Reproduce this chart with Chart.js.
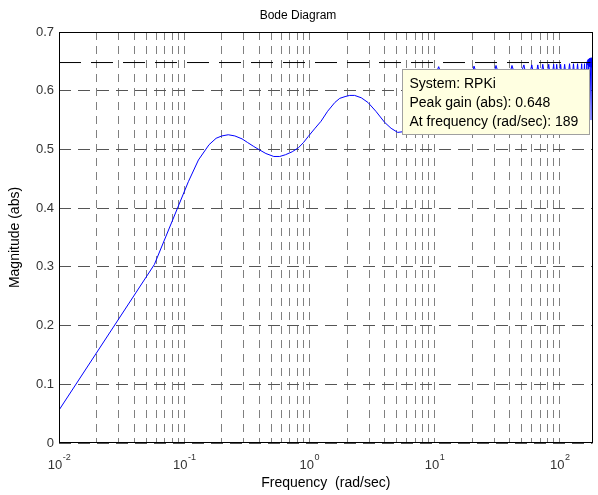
<!DOCTYPE html>
<html>
<head>
<meta charset="utf-8">
<script src="https://cdn.jsdelivr.net/npm/chart.js@4.4.1/dist/chart.umd.min.js"></script>
<style>
  html, body { margin: 0; padding: 0; background: #fff; }
  #wrap { width: 598px; height: 495px; position: relative; }
</style>
</head>
<body>
<div id="wrap"><canvas id="bode"></canvas></div>
<script>
const FONT = "'Liberation Sans', Arial, Helvetica, sans-serif";

// Magnitude response (rad/sec -> abs)
const freq = [0.01, 0.0578, 0.108, 0.13, 0.158, 0.18, 0.2, 0.225, 0.254, 0.29,
  0.32, 0.36, 0.394, 0.45, 0.52, 0.58, 0.645, 0.73, 0.82, 0.9,
  0.98, 1.1, 1.24, 1.4, 1.6, 1.75, 1.93, 2.1, 2.3, 2.6,
  2.94, 3.4, 4.0, 4.5, 5.08, 6.5,
  8.0, 9.5, 10.8, 12.5, 15.5, 18.5, 20.7, 23.5, 27.5, 31.0,
  34.5, 38.5, 41.6, 46, 51.8, 55.5, 59.9, 63.5, 66.9, 70,
  73.3, 77.5, 81.8, 85.5, 89.6, 92, 94.7, 98, 101.8, 105.5,
  109.6, 114.5, 120, 124.5, 129, 134, 139, 144.5, 150, 154,
  158, 162, 165, 168, 171, 174, 177, 180, 181.5, 183];
const mag = [0.056, 0.304, 0.445, 0.482, 0.508, 0.519, 0.523, 0.525, 0.523, 0.518,
  0.512, 0.505, 0.5, 0.493, 0.488, 0.488, 0.491, 0.496, 0.503, 0.512,
  0.522, 0.535, 0.548, 0.565, 0.58, 0.587, 0.59, 0.592, 0.592, 0.588,
  0.58, 0.565, 0.546, 0.536, 0.529, 0.532,
  0.555, 0.61, 0.641, 0.6, 0.575, 0.6, 0.642, 0.605, 0.6, 0.643,
  0.61, 0.615, 0.643, 0.612, 0.644, 0.612, 0.644, 0.615, 0.644, 0.615,
  0.645, 0.612, 0.645, 0.612, 0.645, 0.615, 0.645, 0.612, 0.645, 0.612,
  0.645, 0.61, 0.646, 0.61, 0.646, 0.608, 0.646, 0.605, 0.646, 0.6,
  0.646, 0.57, 0.647, 0.56, 0.647, 0.55, 0.648, 0.648, 0.55, 0.6];

// Peak marker (data tip)
const peakFreq = 180;
const peakGain = 0.648;
const tipLines = ['System: RPKi', 'Peak gain (abs): 0.648', 'At frequency (rad/sec): 189'];

// Axes
const xMin = 0.01, xMax = 183;
const xGrid = [0.01, 0.02, 0.03, 0.04, 0.05, 0.06, 0.07, 0.08, 0.09,
  0.1, 0.2, 0.3, 0.4, 0.5, 0.6, 0.7, 0.8, 0.9,
  1, 2, 3, 4, 5, 6, 7, 8, 9,
  10, 20, 30, 40, 50, 60, 70, 80, 90, 100];
const xDecades = [0.01, 0.1, 1, 10, 100];
const xExps = ['-2', '-1', '0', '1', '2'];
const yTicks = [0, 0.1, 0.2, 0.3, 0.4, 0.5, 0.6, 0.7];
const yLabels = ['0', '0.1', '0.2', '0.3', '0.4', '0.5', '0.6', '0.7'];

const bodeDecor = {
    id: 'bodeDecor',
    afterDatasetsDraw(chart) {
        const { ctx, chartArea: a, scales: { x, y } } = chart;
        ctx.save();
        // box round the axes
        ctx.strokeStyle = '#000';
        ctx.lineWidth = 1;
        ctx.strokeRect(Math.round(a.left) + 0.5, Math.round(a.top) + 0.5,
            Math.round(a.right - a.left) - 1, Math.round(a.bottom - a.top) - 1);

        // data tip box
        const px = x.getPixelForValue(peakFreq), py = y.getPixelForValue(peakGain);
        const bx = Math.round(px - 190) + 0.5, by = Math.round(py + 6) + 0.5;
        ctx.fillStyle = '#ffffe1';
        ctx.strokeStyle = '#a0a0a0';
        ctx.fillRect(bx, by, 187, 65);
        ctx.strokeRect(bx, by, 187, 65);
        ctx.fillStyle = '#000';
        ctx.font = '14px ' + FONT;
        ctx.textAlign = 'left';
        ctx.textBaseline = 'alphabetic';
        tipLines.forEach((t, i) => ctx.fillText(t, bx + 7, by + 18 + i * 19));
        ctx.restore();
    },
    afterDraw(chart) {
        const { ctx, chartArea: a, scales: { x } } = chart;
        ctx.save();
        ctx.fillStyle = '#333';
        ctx.textAlign = 'left';
        ctx.textBaseline = 'alphabetic';
        xDecades.forEach((v, i) => {
            const px = x.getPixelForValue(v);
            ctx.font = '13px ' + FONT;
            const bw = ctx.measureText('10').width;
            ctx.font = '9px ' + FONT;
            const ew = ctx.measureText(xExps[i]).width;
            const sx = px - (bw + ew) / 2;
            ctx.font = '13px ' + FONT;
            ctx.fillText('10', sx, a.bottom + 26);
            ctx.font = '9px ' + FONT;
            ctx.fillText(xExps[i], sx + bw + 0.5, a.bottom + 17);
        });
        ctx.restore();
    }
};

const chart = new Chart(document.getElementById('bode'), {
    type: 'line',
    data: {
        datasets: [{
            label: 'RPKi',
            data: freq.map((f, i) => ({ x: f, y: mag[i] })),
            borderColor: '#0000ff',
            borderWidth: 1,
            pointRadius: 0,
            tension: 0
        }, {
            label: 'Peak level',
            data: [{ x: xMin, y: peakGain }, { x: peakFreq, y: peakGain }],
            borderColor: '#000',
            borderWidth: 1,
            borderDash: [22, 10],
            pointRadius: 0
        }, {
            label: 'Peak',
            data: [{ x: peakFreq, y: peakGain }],
            showLine: false,
            pointRadius: 4.5,
            pointBackgroundColor: '#0000ff',
            pointBorderColor: '#0000ff'
        }]
    },
    options: {
        responsive: true,
        maintainAspectRatio: false,
        animation: false,
        layout: { padding: { top: 0, right: 2, bottom: 0, left: 0 } },
        plugins: {
            legend: { display: false },
            tooltip: { enabled: false },
            title: {
                display: true,
                text: 'Bode Diagram',
                color: '#000',
                font: { family: FONT, size: 12, weight: 'normal' },
                padding: { top: 8, bottom: 9.6 }
            }
        },
        scales: {
            x: {
                type: 'logarithmic',
                min: xMin,
                max: xMax,
                afterBuildTicks: (s) => { s.ticks = xGrid.map(v => ({ value: v })); },
                afterFit: (s) => { s.height = 52; },
                ticks: { display: false },
                grid: { color: '#808080', drawTicks: false },
                border: { display: false, dash: [8, 6] },
                title: {
                    display: true,
                    text: 'Frequency  (rad/sec)',
                    color: '#000',
                    font: { family: FONT, size: 14 },
                    padding: { top: 0, bottom: 3.6 }
                }
            },
            y: {
                type: 'linear',
                min: 0,
                max: 0.7,
                afterBuildTicks: (s) => { s.ticks = yTicks.map(v => ({ value: v })); },
                afterFit: (s) => { s.width = 59; },
                ticks: {
                    color: '#333',
                    padding: 5,
                    font: { family: FONT, size: 13 },
                    callback: (v) => yLabels[yTicks.indexOf(v)]
                },
                grid: { color: '#555', drawTicks: false },
                border: { display: false, dash: [12, 7] },
                title: {
                    display: true,
                    text: 'Magnitude (abs)',
                    color: '#000',
                    font: { family: FONT, size: 14 },
                    padding: { top: 6.6, bottom: 0 }
                }
            }
        }
    },
    plugins: [bodeDecor]
});
</script>
</body>
</html>
